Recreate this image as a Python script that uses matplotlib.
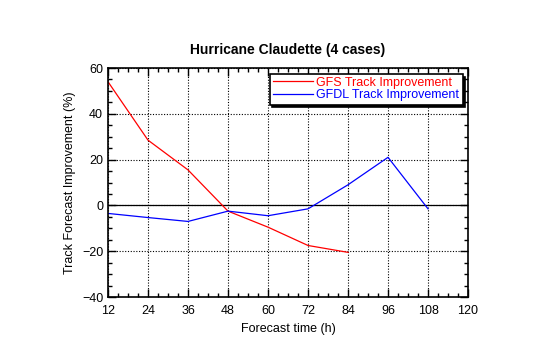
import matplotlib
matplotlib.use("Agg")
import matplotlib.pyplot as plt
from matplotlib.ticker import MultipleLocator

plt.rcParams['font.family'] = ['Liberation Sans', 'DejaVu Sans']

hours_gfs = [12, 24, 36, 48, 60, 72, 84]
gfs = [54, 28.5, 15.5, -2.5, -9.5, -17.5, -20.5]
hours_gfdl = [12, 24, 36, 48, 60, 72, 84, 96, 108]
gfdl = [-3.5, -5.3, -7.0, -2.5, -4.5, -1.5, 9.0, 21.0, -1.5]
xticks = [12, 24, 36, 48, 60, 72, 84, 96, 108, 120]
yticks = [-40, -20, 0, 20, 40, 60]

fig = plt.figure(figsize=(5.4, 3.44), dpi=100)
ax = fig.add_axes([0.2, 0.1366, 0.6667, 0.6657])

ax.plot(hours_gfs, gfs, color='red', lw=0.9, label='GFS Track Improvement')
ax.plot(hours_gfdl, gfdl, color='blue', lw=0.9, label='GFDL Track Improvement')
ax.axhline(0, color='black', lw=0.9, zorder=1)

ax.set_xlim(12, 120)
ax.set_ylim(-40, 60)
ax.set_xticks(xticks)
ax.set_yticks(yticks)
ax.xaxis.set_minor_locator(MultipleLocator(3))
ax.yaxis.set_minor_locator(MultipleLocator(5))
ax.tick_params(which='both', direction='in', top=True, right=True, labelsize=9, color='black')
ax.tick_params(which='major', length=6, width=1)
ax.tick_params(which='minor', length=3, width=1)
ax.tick_params(axis='x', pad=6)
ax.grid(True, which='major', color='black', linestyle=(0, (1, 1.5)), lw=0.8)
for s in ax.spines.values():
    s.set_linewidth(1.2)

ax.set_title('Hurricane Claudette (4 cases)', fontsize=10, fontweight='bold', pad=10)
ax.set_xlabel('Forecast time (h)', fontsize=9)
ax.set_ylabel('Track Forecast Improvement (%)', fontsize=9)

leg = ax.legend(loc='upper right', bbox_to_anchor=(0.985, 0.975), fontsize=9,
                frameon=True, fancybox=False, edgecolor='black', framealpha=1,
                shadow={'color': 'black', 'alpha': 1}, handlelength=3.2,
                borderpad=0.25, labelspacing=0.05, handletextpad=0.3, borderaxespad=0)
leg.get_frame().set_linewidth(1.2)
for t, c in zip(leg.get_texts(), ['red', 'blue']):
    t.set_color(c)

fig.savefig('out.png', dpi=100)
